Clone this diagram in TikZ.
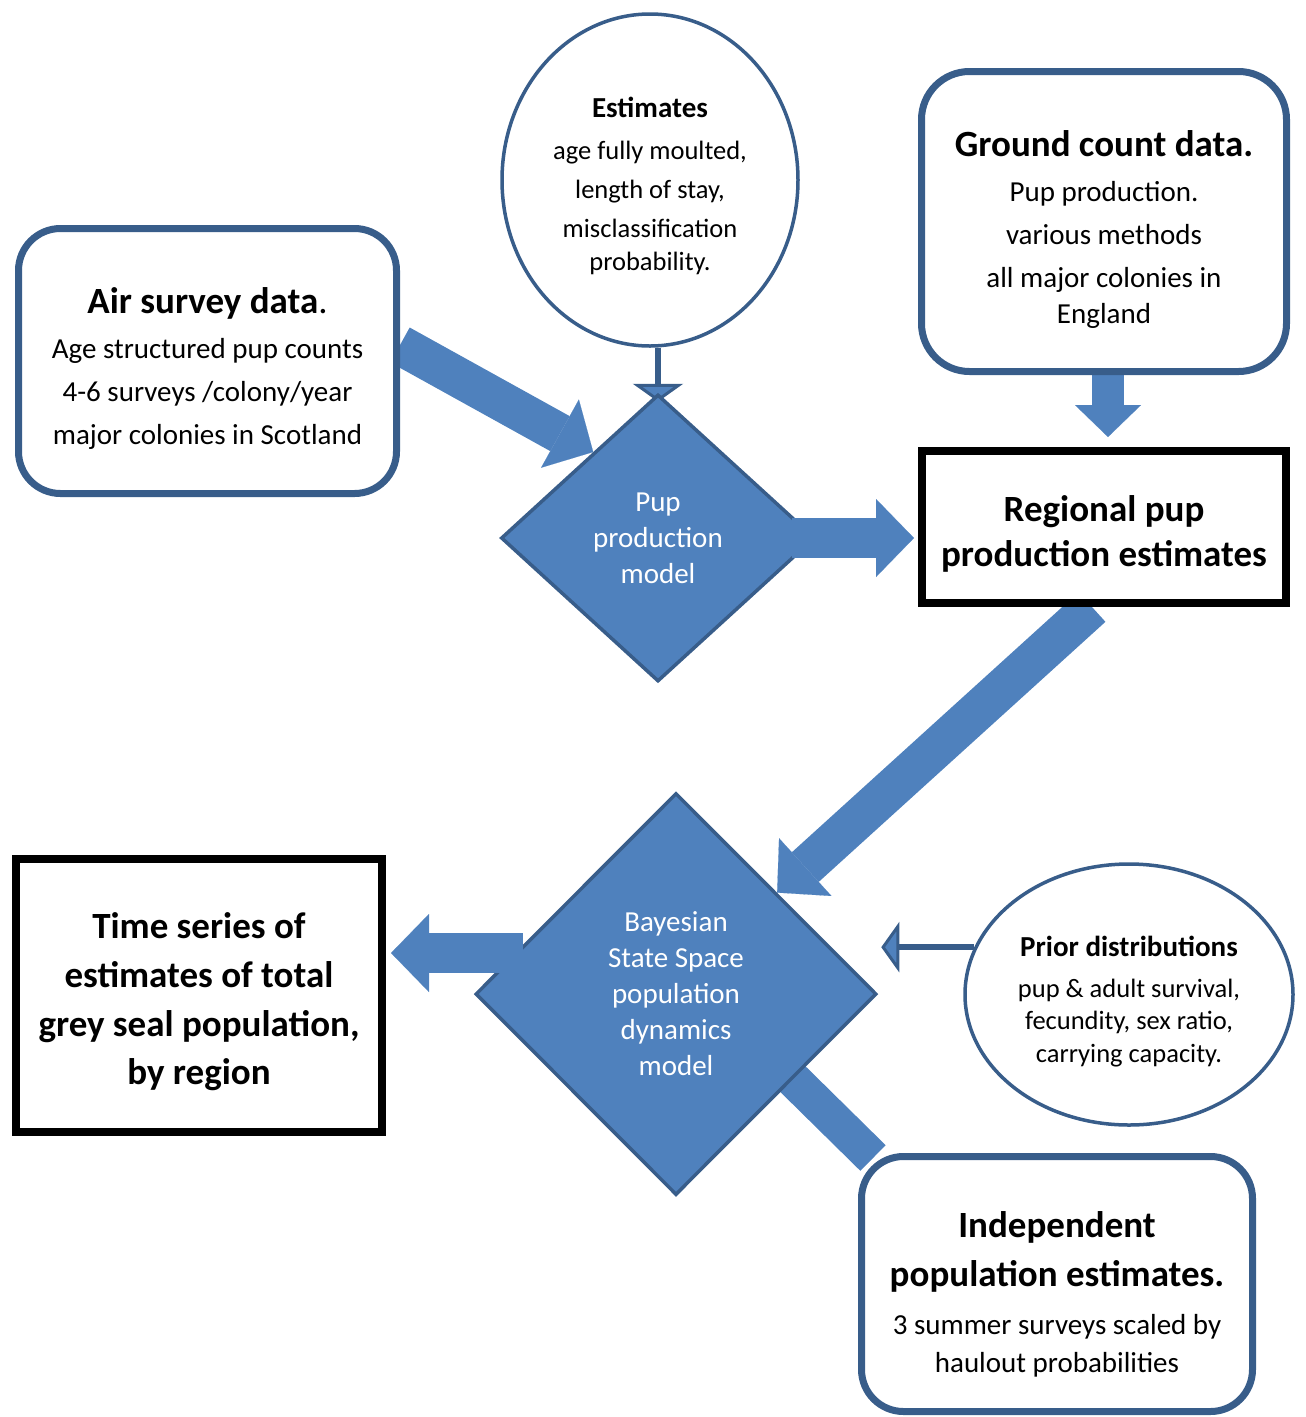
\documentclass[tikz,border=0pt]{standalone}
\usepackage{fontspec}
\setmainfont{Carlito}
\usetikzlibrary{shapes.geometric, arrows.meta, backgrounds}
\definecolor{sealblue}{HTML}{4F81BD}
\definecolor{sealedge}{HTML}{385D8A}
\newcommand{\padtop}[1]{\rule{0pt}{#1}}
\tikzstyle{data} = [rectangle, rounded corners=42pt, line width=7pt, draw=sealedge, fill=white, align=center, inner sep=0pt, font=\fontsize{29}{43}\selectfont]
\tikzstyle{result} = [rectangle, line width=8pt, draw=black, fill=white, align=center, inner sep=0pt, font=\fontsize{37}{45}\selectfont\bfseries]
\tikzstyle{estimate} = [ellipse, line width=3.5pt, draw=sealedge, fill=white, align=center, inner sep=0pt, font=\fontsize{26.5}{39}\selectfont]
\tikzstyle{model} = [diamond, line width=3.5pt, draw=sealedge, fill=sealblue, text=white, align=center, inner sep=0pt, font=\fontsize{29}{36}\selectfont]
\tikzstyle{blockarrow} = [line width=40pt, draw=sealblue, -{Triangle[length=38pt, width=78pt, line width=0.1pt]}]
\tikzstyle{smallblock} = [line width=32pt, draw=sealblue, -{Triangle[length=32pt, width=66pt, line width=0.1pt]}]
\tikzstyle{thinarrow} = [line width=6pt, draw=sealedge, -{Triangle[length=18pt, width=50pt, line width=3pt, fill=sealblue]}]

\begin{document}
\begin{tikzpicture}[x=1pt, y=-1pt]
	\useasboundingbox (0,0) rectangle (1306,1417);
	\node (air) [data, minimum width=378pt, minimum height=265pt] at (207.5,361) {\padtop{40pt}{\fontsize{37}{47}\selectfont\bfseries Air survey data}{\fontsize{37}{47}\selectfont.}\\[2pt] Age structured pup counts\\ 4-6 surveys /colony/year\\ major colonies in Scotland};
	\node (est) [estimate, minimum width=296pt, minimum height=332pt] at (650,180) {\padtop{32pt}{\fontsize{29}{39}\selectfont\bfseries Estimates}\\[3pt] age fully moulted,\\ length of stay,\\ misclassification\\[-6pt] probability.};
	\node (ground) [data, rounded corners=48pt, minimum width=365pt, minimum height=300pt] at (1104,221.5) {\padtop{42pt}{\fontsize{37}{47}\selectfont\bfseries Ground count data.}\\[2pt] Pup production.\\ various methods\\ all major colonies in\\[-7pt] England};
	\node (pup) [model, minimum width=314pt, minimum height=287pt] at (658,538) {Pup\\ production\\ model};
	\node (regional) [result, minimum width=364pt, minimum height=152pt] at (1104,527) {\padtop{40pt}Regional pup\\ production estimates};
	\node (bayes) [model, minimum width=401pt, minimum height=402pt] at (676,994) {Bayesian\\ State Space\\ population\\ dynamics\\ model};
	\node (time) [result, minimum width=366pt, minimum height=273pt, font=\fontsize{37}{49}\selectfont\bfseries] at (199,995.5) {\padtop{38pt}Time series of\\ estimates of total\\ grey seal population,\\[-1pt] by region};
	\node (prior) [estimate, minimum width=328pt, minimum height=261pt, font=\fontsize{26.5}{33}\selectfont] at (1129,994.5) {\padtop{34pt}{\fontsize{29}{33}\selectfont\bfseries Prior distributions}\\[8pt] pup \& adult survival,\\[-1pt] fecundity, sex ratio,\\ carrying capacity.};
	\node (indep) [data, minimum width=391pt, minimum height=255pt, font=\fontsize{29}{38}\selectfont] at (1057,1284) {\padtop{46pt}{\fontsize{37}{49}\selectfont\bfseries Independent}\\[11pt] {\fontsize{37}{49}\selectfont\bfseries population estimates.}\\[10pt] 3 summer surveys scaled by\\ haulout probabilities};
	% arrows behind the shapes
	\begin{pgfonlayer}{background}
		\draw [blockarrow] ([yshift=16pt]air.east) -- (pup.127);
		\draw [thinarrow] (pup.north |- est.south) -- ([yshift=-9pt]pup.north);
		\draw [smallblock] ([xshift=4pt]ground.south) -- ([xshift=4pt,yshift=10pt]regional.north);
		\draw [blockarrow] ([xshift=-12pt]regional.south) -- (bayes.north east);
		\draw [blockarrow, line width=36pt] ([xshift=15pt,yshift=-5pt]indep.north west) -- ([yshift=30pt]bayes.center);
		\draw [thinarrow] (prior.163) -- ([xshift=3pt]bayes.east |- prior.163);
	\end{pgfonlayer}
	% arrows out of the models
	\draw [blockarrow, shorten >=4pt] ([xshift=-25pt]pup.east) -- (pup.east -| regional.west);
	\draw [blockarrow, shorten >=5pt] ([xshift=49pt,yshift=41pt]bayes.west) -- ([yshift=41pt]bayes.west -| time.east);
\end{tikzpicture}
\end{document}
